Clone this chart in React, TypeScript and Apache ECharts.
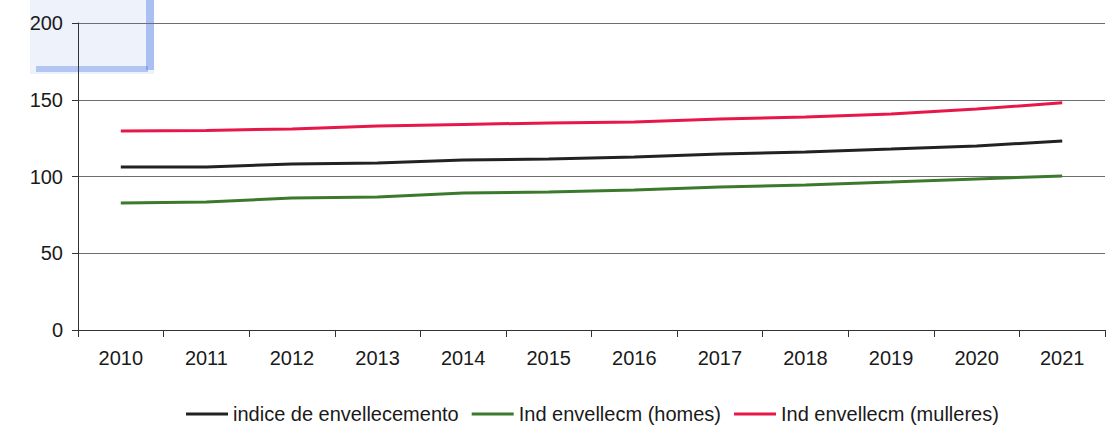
import React, { useEffect, useRef } from "react";
import * as echarts from "echarts";

const years = ["2010", "2011", "2012", "2013", "2014", "2015", "2016", "2017", "2018", "2019", "2020", "2021"];
const indiceTotal = [106.2, 106.2, 108.1, 108.8, 110.7, 111.4, 112.7, 114.7, 116.0, 117.9, 119.9, 123.1];
const indiceHomes = [82.7, 83.4, 86.0, 86.6, 89.2, 89.9, 91.2, 93.2, 94.5, 96.4, 98.4, 100.3];
const indiceMulleres = [129.6, 130.0, 131.0, 132.9, 133.9, 134.9, 135.5, 137.5, 138.8, 140.7, 144.0, 148.0];
const seriesNames = ["indice de envellecemento", "Ind envellecm (homes)", "Ind envellecm (mulleres)"];
const seriesColors = ["#222222", "#3b7a2c", "#e8174a"];

export default function App() {
  const ref = useRef<HTMLDivElement>(null);
  useEffect(() => {
    if (!ref.current) return;
    const chart = echarts.init(ref.current, null, { renderer: "svg" });
    const font = "'Liberation Sans', Arial, sans-serif";
    const dataSets = [indiceTotal, indiceHomes, indiceMulleres];
    chart.setOption({
      animation: false,
      backgroundColor: "#ffffff",
      textStyle: { fontFamily: font },
      grid: { left: 78, right: 8, top: 23, bottom: 100, containLabel: false },
      legend: {
        left: 181,
        top: 399,
        icon: "rect",
        itemWidth: 42,
        itemHeight: 3,
        itemGap: 13,
        textStyle: { fontSize: 20, color: "#1a1a1a", fontFamily: font },
        data: seriesNames,
      },
      xAxis: {
        type: "category",
        data: years,
        boundaryGap: true,
        axisLine: { lineStyle: { color: "#333", width: 1 } },
        axisTick: { show: true, alignWithLabel: false, length: 7, lineStyle: { color: "#333" } },
        axisLabel: { fontSize: 20, color: "#1a1a1a", margin: 18, fontFamily: font },
        splitLine: { show: false },
      },
      yAxis: {
        type: "value",
        min: 0,
        max: 200,
        interval: 50,
        axisLine: { show: true, lineStyle: { color: "#333", width: 1 } },
        axisTick: { show: true, length: 6, inside: false, lineStyle: { color: "#333" } },
        axisLabel: { fontSize: 20, color: "#1a1a1a", margin: 15, fontFamily: font },
        splitLine: { show: true, lineStyle: { color: "#6f6f6f", width: 1 } },
      },
      series: seriesNames.map((name, i) => ({
        name,
        type: "line",
        data: dataSets[i],
        symbol: "none",
        showSymbol: false,
        lineStyle: { color: seriesColors[i], width: 3 },
        itemStyle: { color: seriesColors[i] },
      })),
      graphic: [
        {
          type: "rect",
          shape: { x: 30, y: 0, width: 124, height: 74 },
          style: { fill: "rgba(130,165,230,0.14)" },
          silent: true,
        },
        {
          type: "rect",
          shape: { x: 146, y: 0, width: 8, height: 70 },
          style: { fill: "rgba(70,115,230,0.4)" },
          silent: true,
        },
        {
          type: "rect",
          shape: { x: 36, y: 66, width: 112, height: 6 },
          style: { fill: "rgba(70,115,230,0.35)" },
          silent: true,
        },
      ],
    });
    return () => chart.dispose();
  }, []);
  return <div ref={ref} style={{ position: "fixed", left: 0, top: 0, width: 1113, height: 430 }} />;
}
